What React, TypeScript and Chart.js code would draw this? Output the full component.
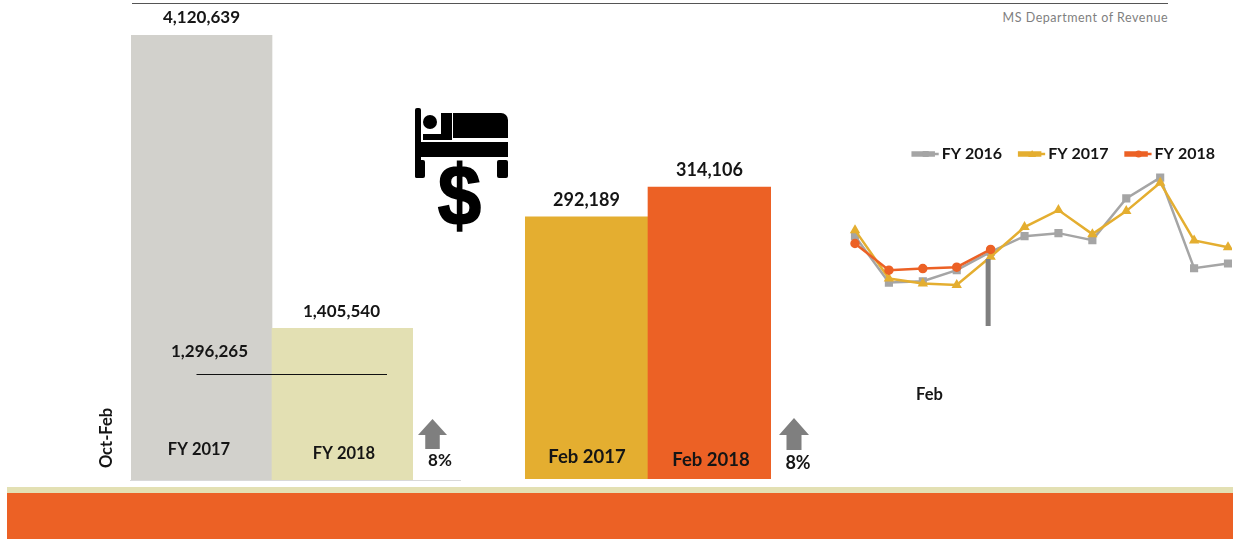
import React, { useEffect, useRef } from "react";
import { Chart, registerables } from "chart.js";

Chart.register(...registerables);

const FONT = "Lato, 'Open Sans', sans-serif";
const GRAY = "#A5A5A5";
const GOLD = "#E4AE30";
const ORANGE = "#EC6125";
const INK = "#151515";

const ytdCategories = ["FY 2017", "FY 2018"];
const ytdValues = [4120639, 1405540];
const ytdColors = ["#D2D1CC", "#E3E0B3"];
const ytdSideValue = "1,296,265";
const ytdTitle = "Oct-Feb";
const ytdChange = "8%";

const febCategories = ["Feb 2017", "Feb 2018"];
const febValues = [292189, 314106];
const febColors = [GOLD, ORANGE];
const febChange = "8%";

const months = ["Oct", "Nov", "Dec", "Jan", "Feb", "Mar", "Apr", "May", "Jun", "Jul", "Aug", "Sep"];
const fy2016 = [354000, 215000, 219000, 252000, 307000, 354000, 363000, 342000, 467000, 529000, 258000, 272000];
const fy2017 = [372000, 227000, 212000, 208000, 292189, 381000, 432000, 360000, 429000, 514000, 341000, 321000];
const fy2018 = [332000, 252000, 257000, 261000, 314106];
const monthLabel = "Feb";
const sourceText = "MS Department of Revenue";

function write(ctx: CanvasRenderingContext2D, text: string, x: number, y: number, font: string, rotate = 0) {
  ctx.save();
  ctx.translate(x, y);
  ctx.rotate(rotate);
  ctx.font = font;
  ctx.fillStyle = INK;
  ctx.textAlign = "center";
  ctx.textBaseline = "middle";
  ctx.fillText(text, 0, 0);
  ctx.restore();
}

// category and value labels, placed from each bar as the scales put it
function barLabels(valueSize: number, size: number, rises: number[], shifts: number[], valueShifts: number[]) {
  return {
    id: "barLabels",
    afterDatasetsDraw(chart: any) {
      const meta = chart.getDatasetMeta(0);
      meta.data.forEach((bar: any, i: number) => {
        const v = chart.data.datasets[0].data[i] as number;
        write(chart.ctx, v.toLocaleString("en-US"), bar.x + valueShifts[i], bar.y - 17, `bold ${valueSize}px ${FONT}`);
        const base = chart.scales.y.bottom;
        write(chart.ctx, chart.data.labels[i], bar.x + shifts[i], base - rises[i], `bold ${size}px ${FONT}`);
      });
    },
  };
}

function arrow(ctx: CanvasRenderingContext2D, left: number, top: number, w: number, h: number) {
  ctx.save();
  ctx.fillStyle = "#7F7F7F";
  const s = w * 0.25;
  const headH = h * 0.53;
  ctx.beginPath();
  ctx.moveTo(left + w / 2, top);
  ctx.lineTo(left + w, top + headH);
  ctx.lineTo(left + w - s, top + headH);
  ctx.lineTo(left + w - s, top + h);
  ctx.lineTo(left + s, top + h);
  ctx.lineTo(left + s, top + headH);
  ctx.lineTo(left, top + headH);
  ctx.closePath();
  ctx.fill();
  ctx.restore();
}

const ytdExtras = {
  id: "ytdExtras",
  afterDraw(chart: any) {
    const { ctx } = chart;
    const ox = 90;
    ctx.save();
    ctx.strokeStyle = "#D9D9D9";
    ctx.lineWidth = 1;
    ctx.beginPath();
    ctx.moveTo(130 - ox, 480.5);
    ctx.lineTo(461 - ox, 480.5);
    ctx.stroke();
    ctx.strokeStyle = "#111111";
    ctx.beginPath();
    ctx.moveTo(196.5 - ox, 374.5);
    ctx.lineTo(387 - ox, 374.5);
    ctx.stroke();
    ctx.restore();
    write(ctx, ytdSideValue, 209.5 - ox, 352, `bold 17px ${FONT}`);
    write(ctx, ytdTitle, 107 - ox, 438, `bold 16.5px ${FONT}`, -Math.PI / 2);
    arrow(ctx, 418 - ox, 419, 29, 30);
    write(ctx, ytdChange, 440 - ox, 461, `bold 17px ${FONT}`);
  },
};

const febExtras = {
  id: "febExtras",
  afterDraw(chart: any) {
    const ox = 500;
    const oy = 130;
    arrow(chart.ctx, 779 - ox, 418 - oy, 30, 32);
    write(chart.ctx, febChange, 798 - ox, 463 - oy, `bold 18px ${FONT}`);
  },
};

const lineExtras = {
  id: "lineExtras",
  afterDraw(chart: any) {
    const { ctx, scales, legend } = chart;
    const oy = 129;
    const fx = scales.x.getPixelForValue(4);
    ctx.save();
    ctx.fillStyle = "#7F7F7F";
    ctx.fillRect(fx - 5, 259 - oy, 5, 67);
    ctx.restore();
    legend.legendHitBoxes.forEach((box: any, i: number) => {
      const ds = chart.data.datasets[i];
      const cy = box.top + box.height / 2;
      ctx.save();
      ctx.strokeStyle = ds.borderColor;
      ctx.lineWidth = 2.5;
      ctx.beginPath();
      ctx.moveTo(box.left, cy);
      ctx.lineTo(box.left + 26, cy);
      ctx.stroke();
      ctx.fillStyle = ds.borderColor;
      const mx = box.left + 13;
      if (ds.pointStyle === "rect") ctx.fillRect(mx - 3, cy - 3, 6, 6);
      else if (ds.pointStyle === "circle") {
        ctx.beginPath();
        ctx.arc(mx, cy, 3.5, 0, Math.PI * 2);
        ctx.fill();
      } else {
        ctx.beginPath();
        ctx.moveTo(mx, cy - 4);
        ctx.lineTo(mx + 4, cy + 3);
        ctx.lineTo(mx - 4, cy + 3);
        ctx.closePath();
        ctx.fill();
      }
      ctx.restore();
    });
    write(ctx, monthLabel, 929.5 - 830, 395 - oy, `bold 16.5px ${FONT}`);
  },
};

function barOptions(min: number, max: number, padding: any): any {
  return {
    animation: false,
    responsive: false,
    layout: { padding },
    plugins: { legend: { display: false }, tooltip: { enabled: false } },
    scales: {
      x: { display: false },
      y: { display: false, min, max },
    },
  };
}

export default function App() {
  const a = useRef<HTMLCanvasElement>(null);
  const b = useRef<HTMLCanvasElement>(null);
  const c = useRef<HTMLCanvasElement>(null);

  useEffect(() => {
    const one = new Chart(a.current!, {
      type: "bar",
      data: { labels: ytdCategories, datasets: [{ data: ytdValues, backgroundColor: ytdColors, categoryPercentage: 1, barPercentage: 1 }] },
      options: barOptions(0, 4120639, { left: 41, right: 57, top: 35, bottom: 15 }),
      plugins: [barLabels(17, 16.5, [30, 26], [-2.5, 1.5], [0, -1]), ytdExtras],
    });
    const two = new Chart(b.current!, {
      type: "bar",
      data: { labels: febCategories, datasets: [{ data: febValues, backgroundColor: febColors, categoryPercentage: 1, barPercentage: 1 }] },
      options: barOptions(100000, 350000, { left: 25, right: 59, top: 8, bottom: 11 }),
      plugins: [barLabels(18, 18.5, [22, 19], [0.5, 1.5], [0, 0]), febExtras],
    });
    const line = (label: string, data: number[], color: string, pointStyle: string, pointRadius: number, order: number) => ({
      label, data, order, pointStyle, pointRadius, borderColor: color, backgroundColor: color, borderWidth: 2.5, tension: 0, clip: false as any,
    });
    const three = new Chart(c.current!, {
      type: "line",
      data: {
        labels: months,
        datasets: [
          line("FY 2016", fy2016, GRAY, "rect", 4, 3),
          line("FY 2017", fy2017, GOLD, "triangle", 3.5, 2),
          line("FY 2018", fy2018, ORANGE, "circle", 3.5, 1),
        ],
      },
      options: {
        animation: false,
        responsive: false,
        layout: { autoPadding: false, padding: { left: 25, right: 0, top: 0, bottom: 89 } },
        plugins: {
          tooltip: { enabled: false },
          legend: {
            align: "end",
            labels: {
              boxWidth: 21, boxHeight: 3, padding: 17, color: INK,
              font: { family: FONT, weight: "bold", size: 16 },
              sort: (p: any, q: any) => p.datasetIndex - q.datasetIndex,
            },
          },
        },
        scales: {
          x: { display: false },
          y: {
            position: "right",
            min: 100000,
            max: 546000,
            grid: { display: false },
            border: { display: false },
            ticks: { display: false },
            afterFit: (s: any) => { s.width = 4; },
          },
        },
      } as any,
      plugins: [lineExtras],
    });
    return () => { one.destroy(); two.destroy(); three.destroy(); };
  }, []);

  const abs = (left: number, top: number, width: number, height: number, background?: string): React.CSSProperties => ({
    position: "absolute", left, top, width, height, background,
  });

  return (
    <div style={{ position: "fixed", left: 0, top: 0, width: 1233, height: 539, overflow: "hidden", background: "#fff" }}>
      <div style={abs(132, 3, 1036, 1, "#555")} />
      <div style={{ ...abs(968, 10, 200, 18), textAlign: "right", font: `12.5px ${FONT}`, letterSpacing: "0.52px", color: "#7F7F7F" }}>{sourceText}</div>
      <canvas ref={a} width={380} height={495} style={{ position: "absolute", left: 90, top: 0 }} />
      <canvas ref={b} width={330} height={360} style={{ position: "absolute", left: 500, top: 130 }} />
      <canvas ref={c} width={402} height={281} style={{ position: "absolute", left: 830, top: 129 }} />
      <svg width={100} height={130} viewBox="0 0 100 130" style={{ position: "absolute", left: 412, top: 105 }}>
        <g fill="#000">
          <rect x={3} y={3} width={6} height={70} rx={2} />
          <rect x={3} y={37} width={93} height={15} />
          <rect x={3} y={55} width={10} height={18} rx={2} />
          <rect x={85} y={55} width={11} height={18} rx={2} />
          <circle cx={18} cy={17} r={7} />
          <path d="M41 8h48a7 7 0 0 1 7 7v18H41z" />
          <path d="M29 8h11v27H11v-6h18z" />
        </g>
        <text transform="translate(47.5 119.5) scale(1 1.1)" textAnchor="middle" stroke="#000" strokeWidth={1.5} style={{ font: "bold 78px 'Liberation Sans'" }}>$</text>
      </svg>
      <div style={abs(7, 487, 1226, 6, "#E3E0B3")} />
      <div style={abs(7, 493, 1226, 46, ORANGE)} />
    </div>
  );
}
